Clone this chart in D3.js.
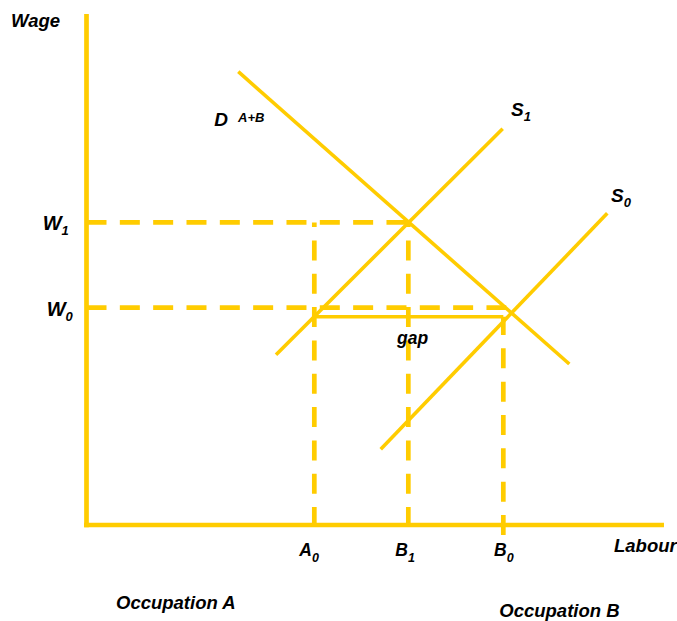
<!DOCTYPE html>
<html>
<head>
<meta charset="utf-8">
<script src="https://cdn.jsdelivr.net/npm/d3@7"></script>
<style>
  html, body { margin: 0; padding: 0; background: #fff; }
  svg text { font-family: "Liberation Sans", Arial, sans-serif; font-weight: bold; font-style: italic; fill: #000; }
</style>
</head>
<body>
<svg id="chart" width="677" height="621"></svg>
<script>
// ---- data (Labour 0-100, Wage 0-100) ----
const labourNames = ["A", "B", "B"];
const labourSubs = ["0", "1", "0"];
const labourValues = [39.62, 55.97, 72.49];
const labourDashTop = [59.33, 59.33, 40.84];   // wage level where each vertical dashed line stops
const labourDashBottom = [-0.4, -0.4, -1.96];

const wageNames = ["W", "W"];
const wageSubs = ["1", "0"];
const wageValues = [59.33, 42.61];
const wageDashEnd = [55.97, 73.0];             // labour level where each horizontal dashed line stops

const gapWage = 40.84;
const gapFrom = 39.62, gapTo = 72.49;

const demandLine = [[26.4, 88.88], [83.97, 31.57]];
const supply1Line = [[32.96, 33.39], [72.38, 77.71]];
const supply0Line = [[51.17, 14.84], [90.57, 61.12]];

// ---- layout ----
const W = 677, H = 621;
const x = d3.scaleLinear().domain([0, 100]).range([86.5, 661.5]);
const y = d3.scaleLinear().domain([0, 100]).range([525, 15]);
const gold = "#FFCC00";
const svg = d3.select("#chart");
const line = d3.line().x(d => x(d[0])).y(d => y(d[1]));

// axes
svg.append("path").attr("d", line([[0, -0.45], [0, 100.2]]))
  .attr("stroke", gold).attr("stroke-width", 4.7).attr("fill", "none");
svg.append("path").attr("d", line([[-0.43, 0], [100.43, 0]]))
  .attr("stroke", gold).attr("stroke-width", 4.7).attr("fill", "none");

// horizontal dashed wage lines
wageValues.forEach((v, i) => {
  svg.append("path").attr("d", line([[0, v], [wageDashEnd[i], v]]))
    .attr("stroke", gold).attr("stroke-width", 4.7).attr("fill", "none")
    .attr("stroke-dasharray", "20,13.33");
});

// vertical dashed labour lines (drawn bottom-up)
labourValues.forEach((v, i) => {
  svg.append("path").attr("d", line([[v, labourDashBottom[i]], [v, labourDashTop[i]]]))
    .attr("stroke", gold).attr("stroke-width", 4.7).attr("fill", "none")
    .attr("stroke-dasharray", "20,13.33");
});

// gap line
svg.append("path").attr("d", line([[gapFrom, gapWage], [gapTo, gapWage]]))
  .attr("stroke", gold).attr("stroke-width", 3.6).attr("fill", "none");

// demand & supply curves
[demandLine, supply1Line, supply0Line].forEach(d => {
  svg.append("path").attr("d", line(d))
    .attr("stroke", gold).attr("stroke-width", 3.6).attr("fill", "none");
});

// ---- text ----
function label(px, py, main, sub, size, subSize, subDy) {
  const t = svg.append("text").attr("x", px).attr("y", py).style("font-size", size + "px");
  t.append("tspan").text(main);
  if (sub) t.append("tspan").attr("dy", subDy).style("font-size", subSize + "px").text(sub);
  return t;
}

label(11, 26.7, "Wage", null, 18.5);
label(214.3, 126, "D", null, 19);
label(238, 122, "A+B", null, 13);

const wageLabelX = [42.7, 46.7];
wageValues.forEach((v, i) => {
  label(wageLabelX[i], y(v) + 8, wageNames[i], wageSubs[i], 20, 13, 5);
});

label(511, 116, "S", "1", 19, 13, 5);
label(611, 201.5, "S", "0", 19, 13, 5.5);
label(397, 343.5, "gap", null, 17.5);

const labourLabelDx = [-15, -13, -9.3];
labourValues.forEach((v, i) => {
  label(x(v) + labourLabelDx[i], 556, labourNames[i], labourSubs[i], 17.5, 12.5, 5.5);
});

label(614, 551.7, "Labour", null, 18.5);
label(116, 609.3, "Occupation A", null, 18.5);
label(499.3, 617.3, "Occupation B", null, 18.5);
</script>
</body>
</html>
